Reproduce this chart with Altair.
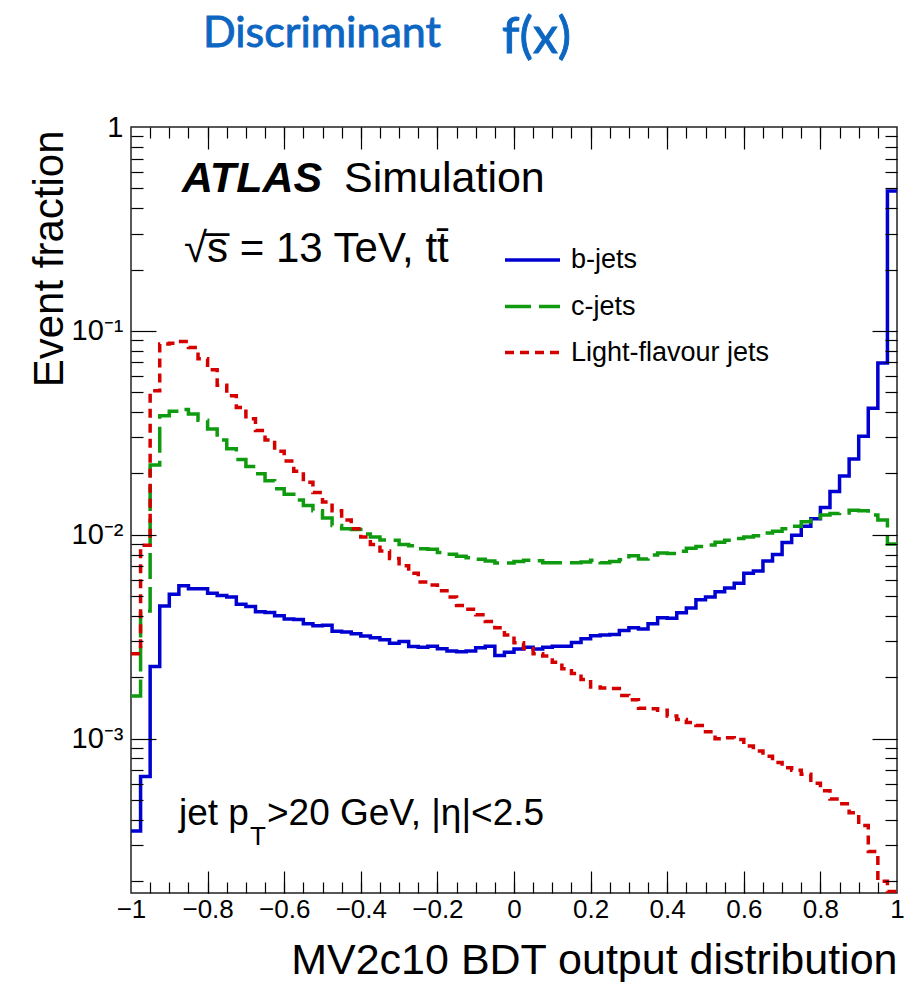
import altair as alt
import pandas as pd

# ---------------- data ----------------
BIN_EDGES = [round(-1 + 0.025 * i, 3) for i in range(81)]

B_JETS = [
    3.52e-4, 6.53e-4, 2.26e-3, 4.48e-3, 5.11e-3, 5.62e-3, 5.43e-3, 5.43e-3, 5.16e-3, 5.03e-3,
    4.95e-3, 4.56e-3, 4.45e-3, 4.19e-3, 4.16e-3, 4.01e-3, 3.86e-3, 3.84e-3, 3.66e-3, 3.58e-3,
    3.60e-3, 3.36e-3, 3.34e-3, 3.27e-3, 3.19e-3, 3.13e-3, 3.06e-3, 2.94e-3, 3.00e-3, 2.83e-3,
    2.81e-3, 2.84e-3, 2.76e-3, 2.69e-3, 2.67e-3, 2.69e-3, 2.79e-3, 2.84e-3, 2.56e-3, 2.65e-3,
    2.75e-3, 2.81e-3, 2.75e-3, 2.81e-3, 2.84e-3, 2.84e-3, 2.96e-3, 3.09e-3, 3.20e-3, 3.22e-3,
    3.24e-3, 3.39e-3, 3.50e-3, 3.45e-3, 3.66e-3, 3.92e-3, 3.90e-3, 4.14e-3, 4.37e-3, 4.80e-3,
    4.95e-3, 5.26e-3, 5.48e-3, 5.78e-3, 6.47e-3, 6.64e-3, 7.43e-3, 8.01e-3, 9.16e-3, 9.96e-3,
    1.10e-2, 1.20e-2, 1.36e-2, 1.63e-2, 1.94e-2, 2.35e-2, 3.04e-2, 4.18e-2, 6.95e-2, 0.485,
]

C_JETS = [
    1.62e-3, 4.23e-3, 2.20e-2, 3.84e-2, 4.03e-2, 4.12e-2, 3.91e-2, 3.64e-2, 3.30e-2, 2.92e-2,
    2.64e-2, 2.34e-2, 2.16e-2, 1.99e-2, 1.84e-2, 1.68e-2, 1.58e-2, 1.48e-2, 1.39e-2, 1.31e-2,
    1.21e-2, 1.11e-2, 1.07e-2, 1.06e-2, 1.01e-2, 9.76e-3, 9.44e-3, 9.40e-3, 8.97e-3, 8.83e-3,
    8.53e-3, 8.50e-3, 8.19e-3, 8.02e-3, 7.85e-3, 7.71e-3, 7.59e-3, 7.43e-3, 7.28e-3, 7.28e-3,
    7.40e-3, 7.50e-3, 7.45e-3, 7.30e-3, 7.30e-3, 7.30e-3, 7.30e-3, 7.35e-3, 7.50e-3, 7.30e-3,
    7.40e-3, 7.55e-3, 7.90e-3, 7.60e-3, 7.95e-3, 8.15e-3, 8.10e-3, 8.30e-3, 8.60e-3, 8.75e-3,
    8.90e-3, 9.20e-3, 9.40e-3, 9.60e-3, 9.75e-3, 9.90e-3, 1.02e-2, 1.04e-2, 1.07e-2, 1.10e-2,
    1.16e-2, 1.21e-2, 1.25e-2, 1.27e-2, 1.28e-2, 1.32e-2, 1.31e-2, 1.25e-2, 1.18e-2, 9.00e-3,
]

LIGHT_JETS = [
    2.61e-3, 8.89e-3, 5.08e-2, 8.63e-2, 8.70e-2, 8.86e-2, 8.28e-2, 7.31e-2, 6.44e-2, 5.41e-2,
    4.81e-2, 4.21e-2, 3.71e-2, 3.25e-2, 2.92e-2, 2.57e-2, 2.30e-2, 2.05e-2, 1.81e-2, 1.61e-2,
    1.45e-2, 1.31e-2, 1.18e-2, 1.07e-2, 9.76e-3, 8.97e-3, 8.32e-3, 7.65e-3, 7.04e-3, 6.48e-3,
    5.86e-3, 5.67e-3, 5.32e-3, 4.95e-3, 4.50e-3, 4.31e-3, 4.05e-3, 3.76e-3, 3.50e-3, 3.22e-3,
    2.95e-3, 2.77e-3, 2.61e-3, 2.54e-3, 2.37e-3, 2.20e-3, 2.09e-3, 1.95e-3, 1.79e-3, 1.77e-3,
    1.76e-3, 1.63e-3, 1.55e-3, 1.41e-3, 1.40e-3, 1.38e-3, 1.29e-3, 1.24e-3, 1.20e-3, 1.16e-3,
    1.08e-3, 1.00e-3, 1.01e-3, 9.90e-4, 9.20e-4, 8.70e-4, 8.20e-4, 7.65e-4, 7.20e-4, 7.00e-4,
    6.70e-4, 6.05e-4, 5.55e-4, 5.06e-4, 4.80e-4, 4.33e-4, 3.75e-4, 2.80e-4, 2.00e-4, 1.78e-4,
]

LEGEND_LABELS = ["b-jets", "c-jets", "Light-flavour jets"]
X_LABEL_VALUES = [round(-1 + 0.2 * i, 1) for i in range(11)]
X_MAJOR_TICKS = [round(-1 + 0.2 * i, 1) for i in range(1, 10)]
X_MINOR_TICKS = [round(-1 + 0.05 * i, 2) for i in range(1, 40)]
Y_LABEL_VALUES = [1e-3, 1e-2, 1e-1, 1.0]
Y_MAJOR_TICKS = [1e-3, 1e-2, 1e-1]
Y_MINOR_TICKS = [k * 10.0 ** d for d in range(-4, 0) for k in range(2, 10) if k * 10.0 ** d > 1.75e-4]

TITLE_WORDS = ["Discriminant", "f(x)"]

# ---------------- style ----------------
W, H = 766, 766
FONT = "Liberation Sans"
BLUE, GREEN, RED = "#0000d0", "#109a10", "#d40000"
TITLE_BLUE = "#0c66c2"
LW = 3.5

XS = alt.Scale(domain=[-1, 1], nice=False, zero=False)
YS = alt.Scale(type="log", domain=[1.75e-4, 1], nice=False)


def hist_df(vals):
    return pd.DataFrame({"x": BIN_EDGES, "y": list(vals) + [vals[-1]]})


def line_layer(vals, color, dash=None):
    kw = dict(interpolate="step-after", color=color, strokeWidth=LW, clip=True)
    if dash is not None:
        kw["strokeDash"] = dash
    return alt.Chart(hist_df(vals)).mark_line(**kw).encode(
        x=alt.X("x:Q", scale=XS, axis=None),
        y=alt.Y("y:Q", scale=YS, axis=None),
    )


base_df = hist_df(B_JETS)


def axis_layer(xaxis, yaxis):
    return alt.Chart(base_df).mark_point(opacity=0).encode(
        x=alt.X("x:Q", scale=XS, axis=xaxis, title=None),
        y=alt.Y("y:Q", scale=YS, axis=yaxis, title=None),
    )


def tick_axis(orient, offset, values, size):
    return alt.Axis(orient=orient, offset=offset, values=values, tickSize=size,
                    ticks=True, labels=False, domain=False, grid=False,
                    tickColor="black", tickWidth=1.2, zindex=1)


label_x = alt.Axis(
    orient="bottom", values=X_LABEL_VALUES, format="~g",
    labelFont=FONT, labelFontSize=26, labelColor="black", labelPadding=3,
    labelFlush=False, labelOverlap=False, ticks=False, domain=False, grid=False,
    title="MV2c10 BDT output distribution", titleFont=FONT, titleFontSize=43,
    titleFontWeight="normal", titleColor="black", titleX=W, titleY=80,
    titleAlign="right", titleBaseline="alphabetic", titleAnchor="end",
)
label_y = alt.Axis(
    orient="left", values=Y_LABEL_VALUES,
    labelExpr="datum.value >= 0.5 ? '1' : datum.value >= 0.05 ? '10\u207b\u00b9' : "
              "datum.value >= 0.005 ? '10\u207b\u00b2' : '10\u207b\u00b3'",
    labelFont=FONT, labelFontSize=29, labelColor="black", labelPadding=8,
    labelFlush=False, labelOverlap=False, ticks=False, domain=False, grid=False,
    title="Event fraction", titleFont=FONT, titleFontSize=42, titleFontWeight="normal",
    titleColor="black", titleAngle=270, titleAlign="right", titleBaseline="alphabetic",
    titleX=-69, titleY=3,
)


def text_layer(s, x, y, size, font=FONT, weight="normal", style="normal",
               color="black", align="left", baseline="alphabetic", stroke_w=0.0):
    kw = dict(align=align, baseline=baseline, font=font, fontSize=size,
              fontWeight=weight, fontStyle=style, color=color)
    if stroke_w > 0:
        kw["stroke"] = color
        kw["strokeWidth"] = stroke_w
    return alt.Chart(alt.Data(values=[{"t": s}])).mark_text(**kw).encode(
        x=alt.value(x), y=alt.value(y), text="t:N")


def legend_line(color, y, dash=None):
    kw = dict(color=color, strokeWidth=LW)
    if dash is not None:
        kw["strokeDash"] = dash
    return alt.Chart(alt.Data(values=[{"k": 1}])).mark_rule(**kw).encode(
        x=alt.value(374), x2=alt.value(429), y=alt.value(y), y2=alt.value(y))


GREEN_DASH = [26, 8]
RED_DASH = [9, 6]

layers = [
    line_layer(B_JETS, BLUE),
    line_layer(C_JETS, GREEN, GREEN_DASH),
    line_layer(LIGHT_JETS, RED, RED_DASH),
    axis_layer(label_x, label_y),
    axis_layer(tick_axis("top", -H, X_MINOR_TICKS, 11), tick_axis("right", -W, Y_MINOR_TICKS, 12)),
    axis_layer(tick_axis("top", -H, X_MAJOR_TICKS, 22), tick_axis("right", -W, Y_MAJOR_TICKS, 25)),
    axis_layer(tick_axis("bottom", -H, X_MINOR_TICKS, 11), tick_axis("left", -W, Y_MINOR_TICKS, 12)),
    axis_layer(tick_axis("bottom", -H, X_MAJOR_TICKS, 22), tick_axis("left", -W, Y_MAJOR_TICKS, 25)),
    # title
    text_layer(TITLE_WORDS[0], 72, -80, 43, font="Lato", color=TITLE_BLUE, stroke_w=0.9),
    text_layer(TITLE_WORDS[1], 371, -74, 50, font="Lato", color=TITLE_BLUE, stroke_w=0.9),
    # ATLAS label
    text_layer("ATLAS", 51, 65, 43, weight="bold", style="italic"),
    text_layer("Simulation", 213, 65, 43),
    text_layer("\u221As\u0305 = 13 TeV, tt\u0304", 53, 135, 42),
    # cuts
    text_layer("jet p", 48, 698, 37),
    text_layer("T", 119, 718, 26),
    text_layer(">20 GeV, |\u03b7|<2.5", 136, 698, 37),
    # legend
    legend_line(BLUE, 133),
    legend_line(GREEN, 179.5, GREEN_DASH),
    legend_line(RED, 225.5, RED_DASH),
    text_layer(LEGEND_LABELS[0], 440, 133, 27, baseline="middle"),
    text_layer(LEGEND_LABELS[1], 440, 179.5, 27, baseline="middle"),
    text_layer(LEGEND_LABELS[2], 440, 225.5, 27, baseline="middle"),
]

chart = (
    alt.layer(*layers)
    .resolve_axis(x="independent", y="independent")
    .resolve_scale(x="shared", y="shared")
    .properties(
        width=W, height=H,
        autosize=alt.AutoSizeParams(type="none"),
        padding={"left": 131, "top": 127, "right": 11, "bottom": 89},
        background="white",
    )
    .configure_view(stroke="#222222", strokeWidth=1.5)
)

chart.save("out.html", embed_options={"renderer": "svg", "actions": False})
